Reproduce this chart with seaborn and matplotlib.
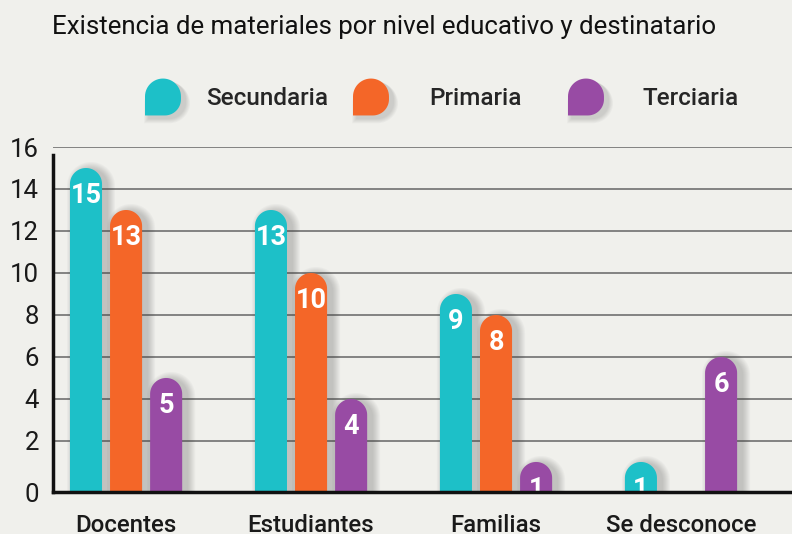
import numpy as np
import pandas as pd
import matplotlib
matplotlib.use("Agg")
import matplotlib.pyplot as plt
import seaborn as sns
from matplotlib.patches import Polygon, Patch
from matplotlib.legend_handler import HandlerBase
from matplotlib import transforms

# datos
destinatarios = ["Docentes", "Estudiantes", "Familias", "Se desconoce"]
niveles = ["Secundaria", "Primaria", "Terciaria"]
secundaria = [15, 13, 9, 1]
primaria = [13, 10, 8, None]
terciaria = [5, 4, 1, 6]
colores = ["#1DC0C8", "#F46628", "#984BA4"]
y_ticks = [0, 2, 4, 6, 8, 10, 12, 14, 16]
titulo = "Existencia de materiales por nivel educativo y destinatario"

filas = []
for nivel, serie in zip(niveles, [secundaria, primaria, terciaria]):
    for d, v in zip(destinatarios, serie):
        filas.append({"destinatario": d, "nivel": nivel, "valor": v})
df = pd.DataFrame(filas).dropna()

sns.set_theme(style="white")
plt.rcParams["font.family"] = ["Roboto", "DejaVu Sans"]
BG = "#F0F0EC"

W, H = 792, 534
fig = plt.figure(figsize=(W / 100, H / 100), dpi=100, facecolor=BG)
L, R, B, T = 53 / W, 1.0, 1 - 492 / H, 1 - 147 / H
ax = fig.add_axes([L, B, R - L, T - B])
ax.set_facecolor(BG)

sns.barplot(data=df, x="destinatario", y="valor", hue="nivel", order=destinatarios,
            hue_order=niveles, palette=colores, width=0.65, gap=0.2, saturation=1,
            legend=False, ax=ax)

# el eje horizontal queda un poco por debajo del cero, como en el original
ybase = -0.43
xlim = (-0.395, 3.6)
ax.set_xlim(*xlim)
ax.set_ylim(ybase, 16)
ppx = W * (R - L) / (xlim[1] - xlim[0])   # pixeles por unidad x
ppy = H * (T - B) / (16 - ybase)          # pixeles por unidad y


def barra_redonda(x0, w, h, y0=ybase):
    rx = w / 2
    ry = rx * ppx / ppy
    base = max(h - ry, y0)
    ang = np.linspace(np.pi, 0, 40)
    arco = np.column_stack([x0 + rx + rx * np.cos(ang), base + ry * np.sin(ang)])
    return np.vstack([[x0, y0], [x0, base], arco, [x0 + w, base], [x0 + w, y0]])


barras = [p for p in ax.patches]
for p in barras:
    h = p.get_height()
    if not np.isfinite(h) or h <= 0:
        p.remove()
        continue
    x0, w, fc = p.get_x(), p.get_width(), p.get_facecolor()
    p.remove()
    # sombra difusa
    for d in range(1, 9):
        dx, dd = 5 / ppx, d / ppx
        vs = barra_redonda(x0 + dx - dd, w + 2 * dd, h + d / ppy - 2 / ppy)
        ax.add_patch(Polygon(vs, closed=True, facecolor="#444444", edgecolor="none",
                             alpha=0.035, zorder=1))
    ax.add_patch(Polygon(barra_redonda(x0, w, h), closed=True, facecolor=fc,
                         edgecolor="none", zorder=3))
    off = transforms.offset_copy(ax.transData, fig=fig, y=-28, units="dots")
    t = ax.text(x0 + w / 2, h, f"{int(h)}", transform=off, ha="center", va="center",
                color="white", fontsize=19.5, fontweight="bold", zorder=4, clip_on=True)
    t.set_clip_path(ax.patch)

ax.set_yticks([ybase] + y_ticks[1:])
ax.set_yticklabels([str(v) for v in y_ticks])
ax.yaxis.grid(True, color="#707070", linewidth=1.2)
ax.xaxis.grid(False)
ax.set_axisbelow(True)
ax.tick_params(axis="y", length=0, pad=10, labelsize=18.5, labelcolor="#1a1a1a")
ax.tick_params(axis="x", length=0, pad=16, labelsize=17.3, labelcolor="#1a1a1a")
for lab in ax.get_xticklabels():
    lab.set_fontweight("medium")
ax.set_xlabel("")
ax.set_ylabel("")
for s in ["top", "right"]:
    ax.spines[s].set_visible(False)
for s in ["left", "bottom"]:
    ax.spines[s].set_color("#111111")
    ax.spines[s].set_linewidth(2.5)
    ax.spines[s].set_zorder(5)
ax.spines["left"].set_bounds(ybase, 15.6)


class GotaHandler(HandlerBase):
    def create_artists(self, legend, orig_handle, xdescent, ydescent, width, height,
                       fontsize, trans):
        def gota(x0, y0, w, h):
            r = w / 2
            r2 = w * 0.45
            a1 = np.linspace(np.pi, 0, 30)
            a2 = np.linspace(0, -np.pi / 2, 20)
            top = np.column_stack([x0 + r + r * np.cos(a1), y0 + h - r + r * np.sin(a1)])
            bot = np.column_stack([x0 + w - r2 + r2 * np.cos(a2), y0 + r2 + r2 * np.sin(a2)])
            return np.vstack([[x0, y0], [x0, y0 + h - r], top, bot, [x0, y0]])
        arts = []
        for d in range(1, 7):
            arts.append(Polygon(gota(-xdescent + 3 - d * 0.6, -ydescent - 2 - d * 0.6,
                                     width + d * 1.2, height + d * 0.6),
                                closed=True, facecolor="#444444", edgecolor="none",
                                alpha=0.035, transform=trans))
        arts.append(Polygon(gota(-xdescent, -ydescent, width, height), closed=True,
                            facecolor=orig_handle.get_facecolor(), edgecolor="none",
                            transform=trans))
        return arts


# una entrada de leyenda por nivel: (x del marcador en px, separacion texto)
pos_leyenda = [(145, 1.05), (353, 1.65), (568, 1.6)]
for c, n, (xp, pad) in zip(colores, niveles, pos_leyenda):
    fig.legend(handles=[Patch(facecolor=c, label=n)], handler_map={Patch: GotaHandler()},
               loc="center left", bbox_to_anchor=(xp / W, 1 - 97 / H), frameon=False,
               borderpad=0, borderaxespad=0, handlelength=1.48, handleheight=1.96,
               handletextpad=pad, prop={"weight": "medium", "size": 17.5})

fig.text(52 / W, 1 - 27 / H, titulo, fontsize=18.6, color="#111111", va="center", ha="left")

fig.savefig("out.png", dpi=100, facecolor=BG)
